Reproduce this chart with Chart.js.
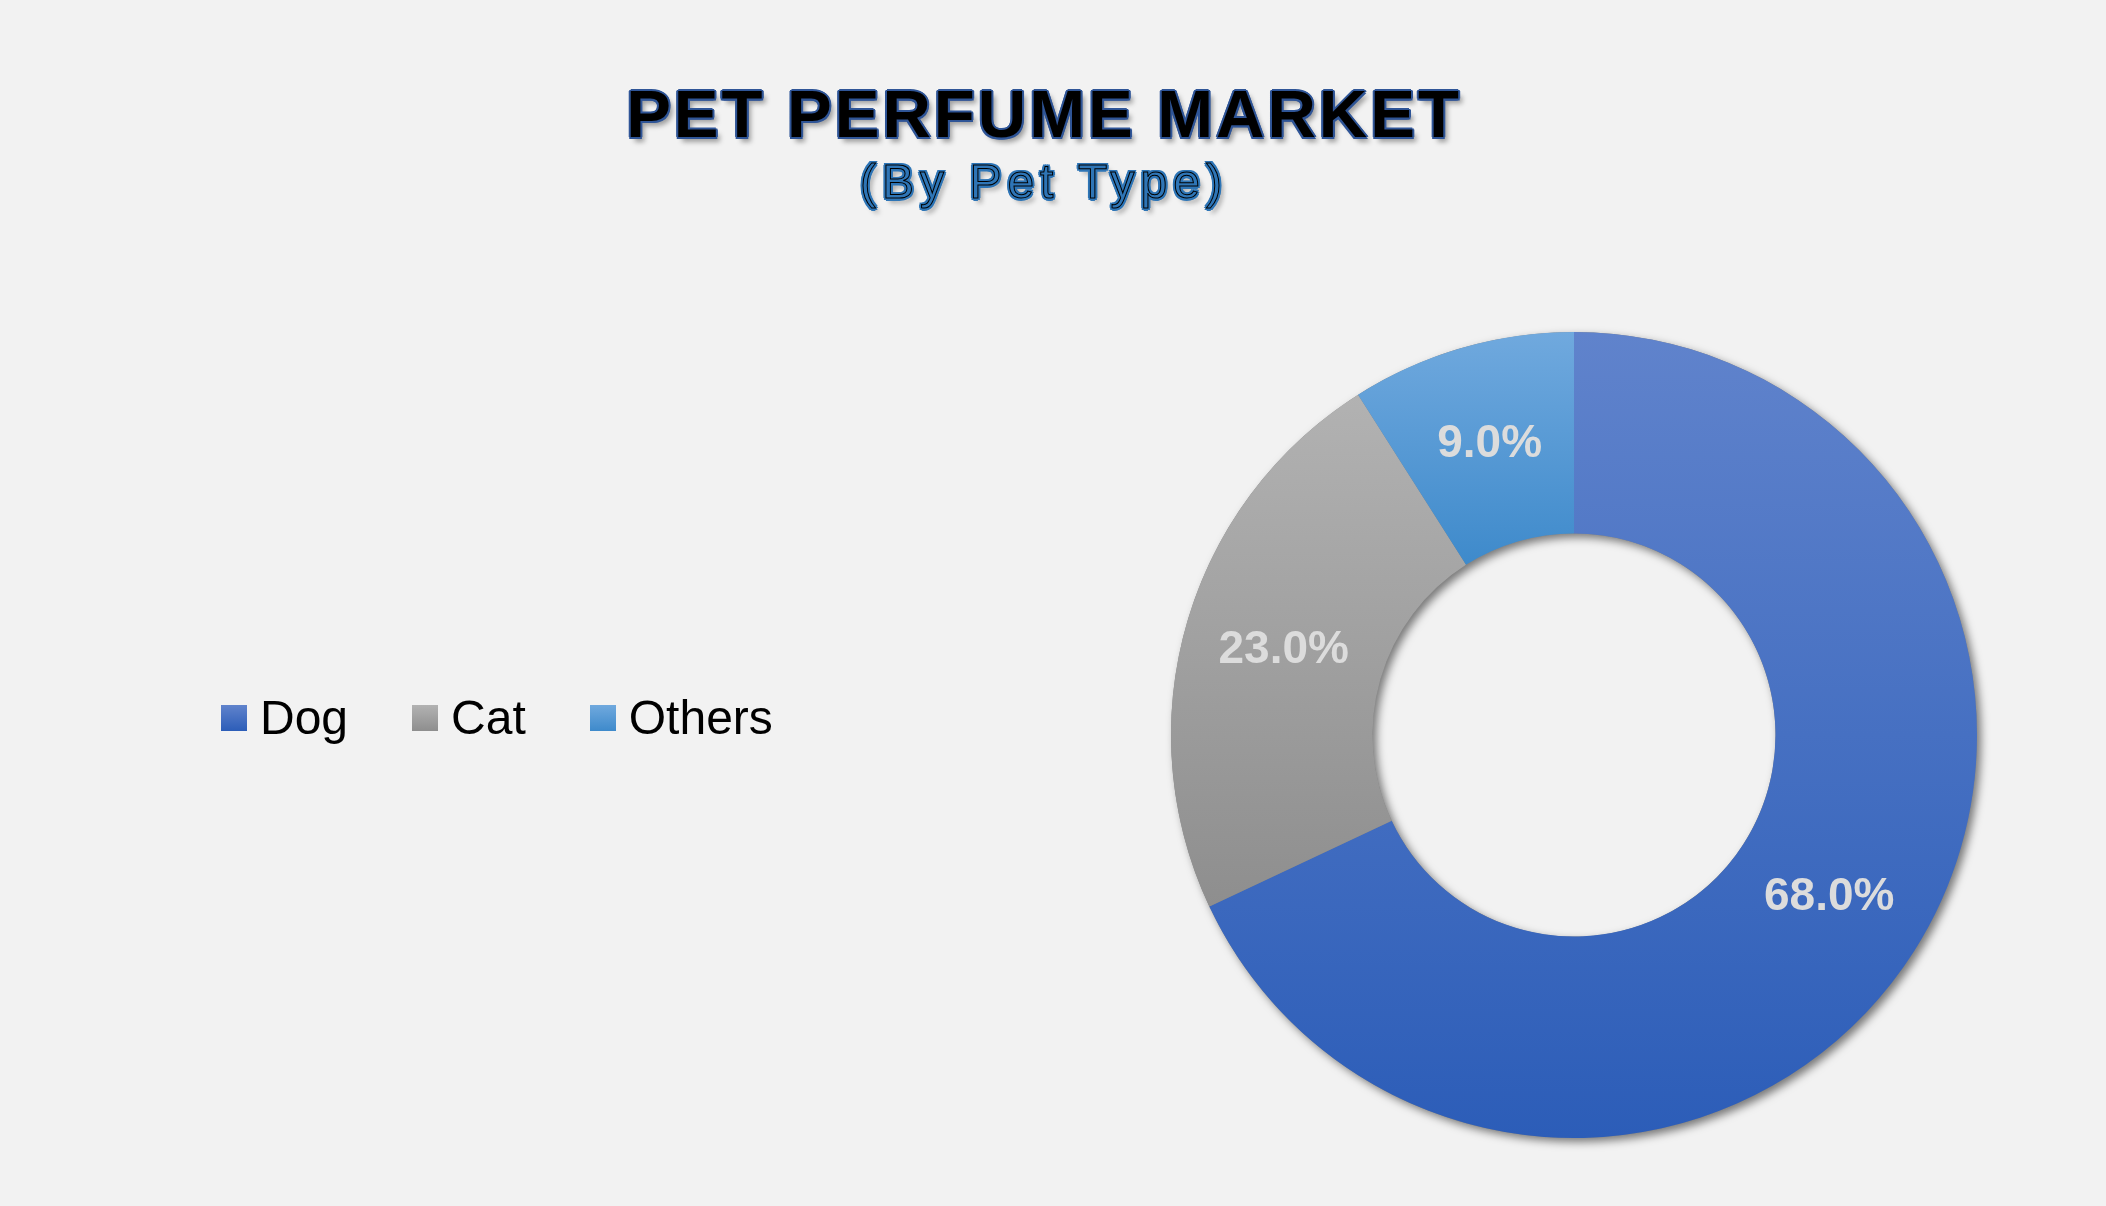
<!DOCTYPE html>
<html>
<head>
<meta charset="utf-8">
<script src="https://cdn.jsdelivr.net/npm/chart.js@4/dist/chart.umd.min.js"></script>
<style>
    html, body {
        margin: 0;
        padding: 0;
        background: #f2f2f2;
    }
    #wrap {
        position: relative;
        width: 2106px;
        height: 1206px;
        overflow: hidden;
        font-family: "Liberation Sans", Arial, sans-serif;
    }
    #chart {
        position: absolute;
        left: 0;
        top: 0;
    }
    .title {
        position: absolute;
        left: 0;
        width: 2088px;
        text-align: center;
        white-space: nowrap;
    }
    #mainTitle {
        top: 80px;
        font-size: 67px;
        line-height: 67px;
        font-weight: bold;
        letter-spacing: 3px;
        color: #000;
        text-shadow:
            2px 0 #2f5597, -2px 0 #2f5597, 0 2px #2f5597, 0 -2px #2f5597,
            1.5px 1.5px #2f5597, -1.5px 1.5px #2f5597, 1.5px -1.5px #2f5597, -1.5px -1.5px #2f5597,
            4px 5px 5px rgba(0, 0, 0, 0.35);
    }
    #subTitle {
        top: 158px;
        font-size: 48px;
        line-height: 48px;
        letter-spacing: 6px;
        color: #2e75b6;
        -webkit-text-stroke: 1px #000;
        text-shadow:
            2.5px 0 #2e75b6, -2.5px 0 #2e75b6, 0 2.5px #2e75b6, 0 -2.5px #2e75b6,
            2px 2px #2e75b6, -2px 2px #2e75b6, 2px -2px #2e75b6, -2px -2px #2e75b6,
            4px 5px 5px rgba(0, 0, 0, 0.35);
    }
    #legend {
        position: absolute;
        left: 221px;
        top: 694px;
        height: 48px;
        display: flex;
        align-items: center;
        font-size: 48px;
        line-height: 48px;
        color: #000;
    }
    .item {
        display: flex;
        align-items: center;
        margin-right: 64px;
    }
    .box {
        width: 26px;
        height: 26px;
        margin-right: 13px;
    }
</style>
</head>
<body>
<div id="wrap">
    <canvas id="chart" width="2106" height="1206"></canvas>
    <div class="title" id="mainTitle">PET PERFUME MARKET</div>
    <div class="title" id="subTitle">(By Pet Type)</div>
    <div id="legend"></div>
</div>
<script>
// Chart data
const petTypes = ['Dog', 'Cat', 'Others'];
const shares = [68.0, 23.0, 9.0];

// Slice colours (top / bottom of each vertical gradient)
const topColors = ['#6083cc', '#b2b2b2', '#70a9de'];
const bottomColors = ['#2c5db8', '#8e8e8e', '#3e8acb'];

const CUTOUT = 0.5;

// Vertical extent of a slice, so the gradient spans just that slice
function sliceExtent(index, cy, outer, inner) {
    const total = shares.reduce((a, b) => a + b, 0);
    let start = 0;
    for (let i = 0; i < index; i++) start += shares[i];
    const a0 = -Math.PI / 2 + (start / total) * Math.PI * 2;
    const a1 = a0 + (shares[index] / total) * Math.PI * 2;
    let minY = Infinity, maxY = -Infinity;
    for (let s = 0; s <= 60; s++) {
        const a = a0 + (a1 - a0) * s / 60;
        [outer, inner].forEach(r => {
            const y = cy + Math.sin(a) * r;
            minY = Math.min(minY, y);
            maxY = Math.max(maxY, y);
        });
    }
    return [minY, maxY];
}

function sliceColor(context) {
    const chart = context.chart;
    const area = chart.chartArea;
    const i = context.dataIndex;
    if (!area) return topColors[i];
    const cy = (area.top + area.bottom) / 2;
    const outer = Math.min(area.right - area.left, area.bottom - area.top) / 2;
    const [y0, y1] = sliceExtent(i, cy, outer, outer * CUTOUT);
    const g = chart.ctx.createLinearGradient(0, y0, 0, y1);
    g.addColorStop(0, topColors[i]);
    g.addColorStop(1, bottomColors[i]);
    return g;
}

// Soft drop shadow under the whole ring
const ringShadow = {
    id: 'ringShadow',
    beforeDatasetsDraw(chart) {
        const arc = chart.getDatasetMeta(0).data[0];
        if (!arc) return;
        const ctx = chart.ctx;
        ctx.save();
        ctx.shadowColor = 'rgba(0, 0, 0, 0.5)';
        ctx.shadowBlur = 9;
        ctx.shadowOffsetX = 4;
        ctx.shadowOffsetY = 4;
        ctx.fillStyle = '#808080';
        ctx.beginPath();
        ctx.arc(arc.x, arc.y, arc.outerRadius, 0, Math.PI * 2);
        ctx.arc(arc.x, arc.y, arc.innerRadius, 0, Math.PI * 2, true);
        ctx.fill();
        ctx.restore();
    }
};

// Percentage labels in the middle of each slice
const sliceLabels = {
    id: 'sliceLabels',
    afterDatasetsDraw(chart) {
        const ctx = chart.ctx;
        const meta = chart.getDatasetMeta(0);
        ctx.save();
        ctx.font = 'bold 46px "Liberation Sans", Arial, sans-serif';
        ctx.fillStyle = '#dcdcdc';
        ctx.textAlign = 'center';
        ctx.textBaseline = 'middle';
        meta.data.forEach((arc, i) => {
            const pos = arc.tooltipPosition();
            ctx.fillText(shares[i].toFixed(1) + '%', pos.x, pos.y);
        });
        ctx.restore();
    }
};

const chart = new Chart(document.getElementById('chart'), {
    type: 'doughnut',
    data: {
        labels: petTypes,
        datasets: [{
            data: shares,
            backgroundColor: sliceColor,
            borderWidth: 0,
            hoverOffset: 0,
            clip: false
        }]
    },
    options: {
        responsive: false,
        animation: false,
        events: [],
        cutout: (CUTOUT * 100) + '%',
        layout: {
            padding: { left: 1171, right: 129, top: 332, bottom: 68 }
        },
        plugins: {
            legend: { display: false },
            tooltip: { enabled: false }
        }
    },
    plugins: [ringShadow, sliceLabels]
});

// HTML legend built from the same labels
const legend = document.getElementById('legend');
chart.data.labels.forEach((label, i) => {
    const item = document.createElement('div');
    item.className = 'item';
    const box = document.createElement('div');
    box.className = 'box';
    box.style.background = 'linear-gradient(' + topColors[i] + ', ' + bottomColors[i] + ')';
    const text = document.createElement('span');
    text.textContent = label;
    item.appendChild(box);
    item.appendChild(text);
    legend.appendChild(item);
});
</script>
</body>
</html>
